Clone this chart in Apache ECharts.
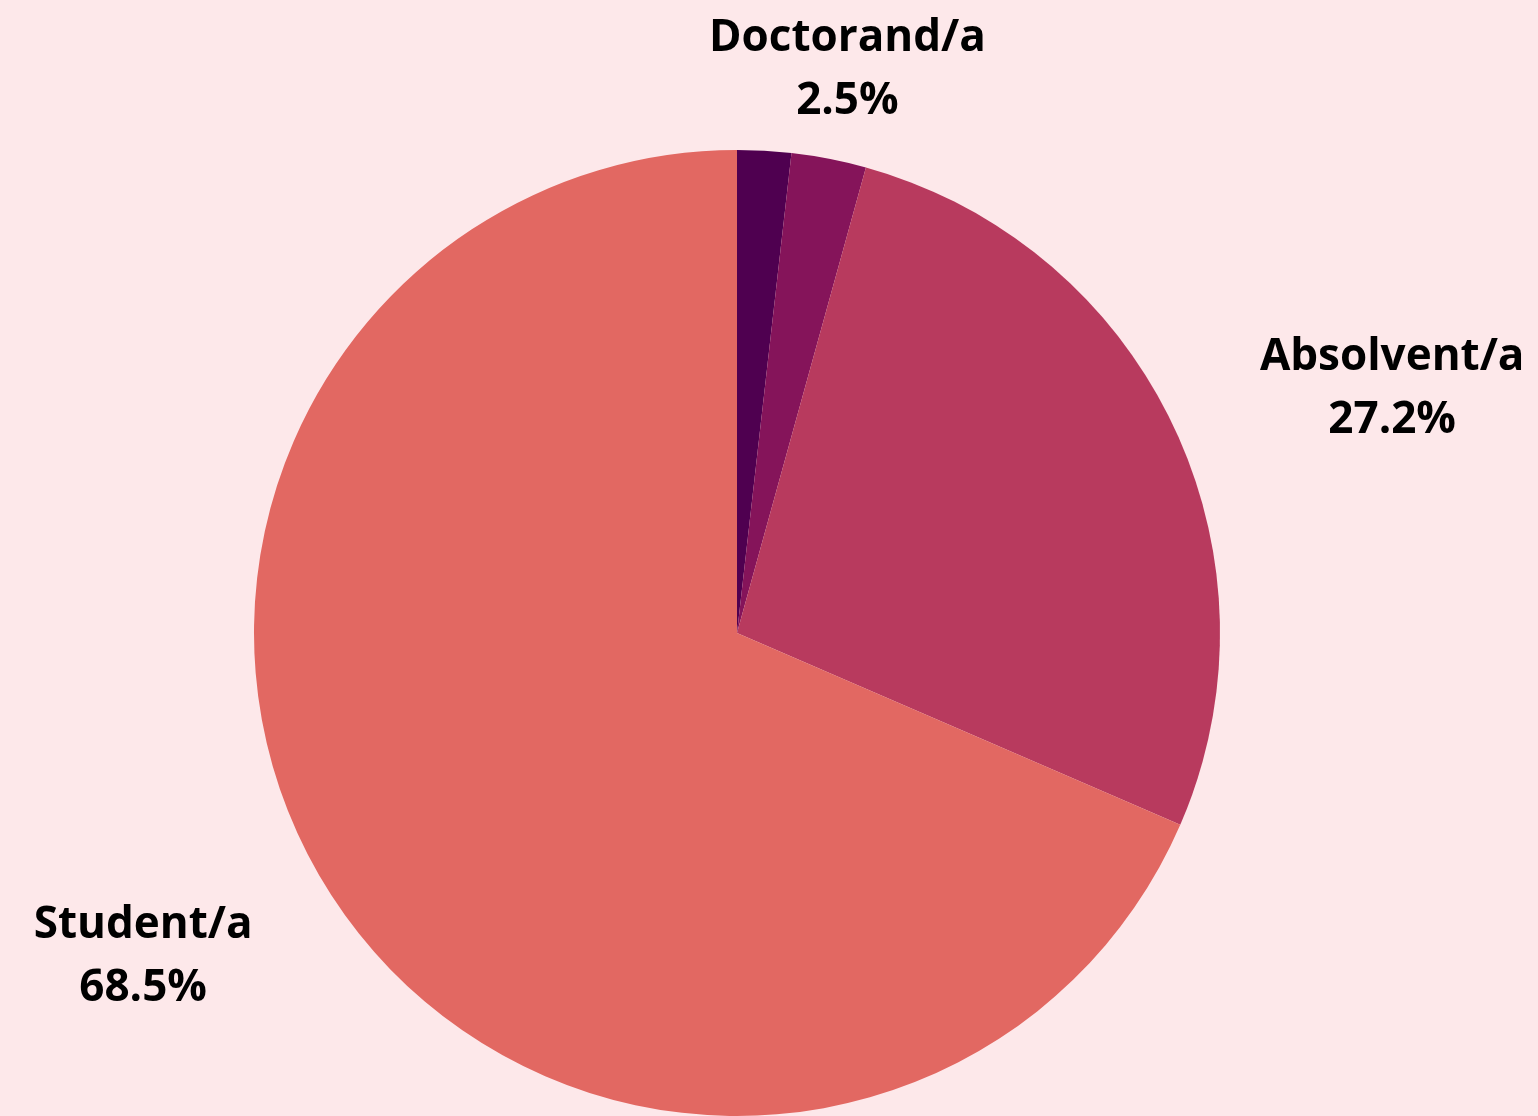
<!DOCTYPE html>
<html>
<head>
<meta charset="utf-8">
<script src="https://cdn.jsdelivr.net/npm/echarts@6/dist/echarts.min.js"></script>
<style>
  html, body { margin: 0; padding: 0; background: #fde8ea; }
  #chart { width: 1538px; height: 1116px; }
</style>
</head>
<body>
<div id="chart"></div>
<script>
var categories = ['Altele', 'Doctorand/a', 'Absolvent/a', 'Student/a']
var values = [1.8, 2.5, 27.2, 68.5]
var showLabel = [false, true, true, true]
var colors = ['#4f0050', '#85145a', '#b83a5e', '#e26862']

var cx = 737, cy = 633, R = 483
var total = values.reduce(function (a, b) { return a + b }, 0)

// mid angle of each slice, clockwise from 12 o'clock
var mids = []
var acc = 0
values.forEach(function (v) {
  mids.push((acc + v / 2) / total * Math.PI * 2)
  acc += v
})

var chart = echarts.init(document.getElementById('chart'))
chart.setOption({
  backgroundColor: '#fde8ea',
  color: colors,
  series: [{
    type: 'pie',
    center: [cx, cy],
    radius: [0, R],
    startAngle: 90,
    clockwise: true,
    animation: false,
    silent: true,
    itemStyle: { borderWidth: 0 },
    label: {
      show: true,
      position: 'outside',
      fontFamily: 'Open Sans',
      fontWeight: 'bold',
      fontSize: 44,
      lineHeight: 63,
      color: '#000',
      formatter: function (p) {
        return p.name + '\n' + p.value.toFixed(1) + '%'
      }
    },
    labelLine: { show: false },
    labelLayout: function (p) {
      var a = mids[p.dataIndex]
      var s = Math.sin(a)
      var ax = cx + 1.2 * R * s
      var w = p.labelRect.width
      // lines centred inside the block, block anchored by side
      if (Math.abs(s) >= 0.3) ax += (s > 0 ? 1 : -1) * w / 2
      return {
        x: ax,
        y: cy - 1.2 * R * Math.cos(a) + 6,
        align: 'center',
        verticalAlign: 'middle'
      }
    },
    data: categories.map(function (c, i) {
      return { name: c, value: values[i], label: { show: showLabel[i] } }
    })
  }]
})
</script>
</body>
</html>
